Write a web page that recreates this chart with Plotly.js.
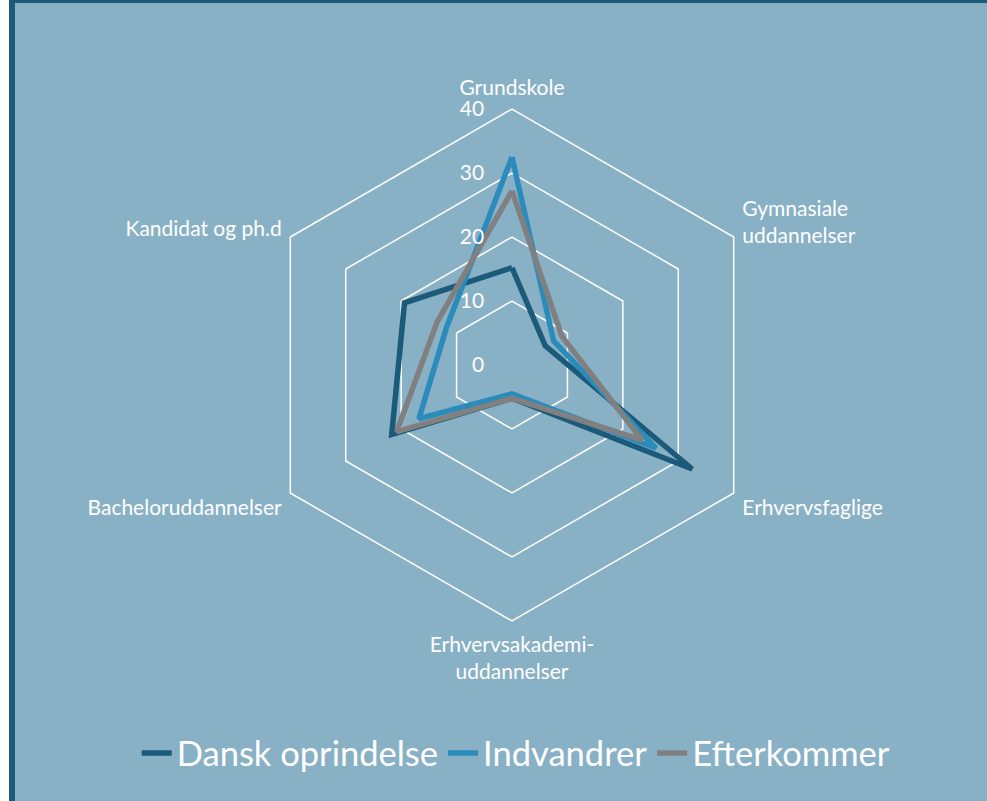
<!DOCTYPE html>
<html>
<head>
<meta charset="utf-8">
<script src="https://cdn.plot.ly/plotly-3.0.1.min.js"></script>
<style>
html,body{margin:0;padding:0;background:#ffffff;}
#chart{width:987px;height:801px;}
</style>
</head>
<body>
<div id="chart"></div>
<script>
// ---- data ----
var categories = ['Grundskole', 'Gymnasiale uddannelser', 'Erhvervsfaglige', 'Erhvervsakademi-uddannelser', 'Bacheloruddannelser', 'Kandidat og ph.d'];
var categoryLabels = ['Grundskole', 'Gymnasiale<br>uddannelser', 'Erhvervsfaglige', 'Erhvervsakademi-<br>uddannelser', 'Bacheloruddannelser', 'Kandidat og ph.d'];
var seriesNames = ['Dansk oprindelse', 'Indvandrer', 'Efterkommer'];
var dansk = [15.2, 6.0, 32.5, 5.2, 21.7, 19.4];
var indvandrer = [32.5, 7.5, 26.0, 4.5, 16.8, 11.8];
var efterkommer = [27.2, 9.0, 23.5, 5.2, 20.8, 13.5];
var radialTicks = [0, 10, 20, 30, 40];

// ---- styles ----
var colors = ['#1b5a79', '#2b8bbb', '#808080'];
var bg = '#89b1c5';
var dark = '#1b5a79';
var W = 987, H = 801;

function closed(a){ return a.concat([a[0]]); }
var allSeries = [dansk, indvandrer, efterkommer];
var traces = allSeries.map(function(vals, i){
  return {
    type: 'scatterpolar',
    r: closed(vals),
    theta: closed(categories),
    mode: 'lines',
    name: seriesNames[i],
    line: {color: colors[i], width: 5.5},
    hoverinfo: 'skip'
  };
});

var cx = 512, cy = 365, R = 256;
var layout = {
  width: W, height: H,
  margin: {l: 0, r: 0, t: 0, b: 0},
  paper_bgcolor: bg,
  plot_bgcolor: bg,
  font: {family: 'Lato, "Open Sans", sans-serif', color: '#ffffff'},
  showlegend: true,
  legend: {
    orientation: 'h',
    x: 0.523, xanchor: 'center',
    y: (H - 753) / H, yanchor: 'middle',
    bgcolor: 'rgba(0,0,0,0)',
    font: {size: 34.5, color: '#ffffff', family: 'Lato, "Open Sans", sans-serif'},
    itemwidth: 30,
    traceorder: 'normal'
  },
  polar: {
    domain: {x: [(cx - R) / W, (cx + R) / W], y: [(H - cy - R) / H, (H - cy + R) / H]},
    bgcolor: bg,
    gridshape: 'linear',
    angularaxis: {
      direction: 'clockwise',
      rotation: 90,
      categoryorder: 'array',
      categoryarray: categories,
      tickvals: categories,
      ticktext: categoryLabels,
      showgrid: false,
      showline: true,
      linecolor: '#ffffff',
      linewidth: 1.5,
      ticks: 'outside',
      ticklen: 5,
      tickcolor: 'rgba(0,0,0,0)',
      tickfont: {size: 21, color: '#ffffff'}
    },
    radialaxis: {
      range: [0, 40],
      tickvals: radialTicks,
      ticktext: radialTicks.map(String),
      angle: 90,
      side: 'counterclockwise',
      showline: false,
      ticks: 'outside',
      ticklen: 20,
      tickcolor: 'rgba(0,0,0,0)',
      showgrid: true,
      gridcolor: '#ffffff',
      gridwidth: 1.5,
      tickfont: {size: 21, color: '#ffffff'},
      tickangle: 90
    }
  },
  shapes: [
    {type: 'rect', xref: 'paper', yref: 'paper', x0: 0, x1: 9 / W, y0: 0, y1: 1, fillcolor: '#ffffff', line: {width: 0}, layer: 'above'},
    {type: 'rect', xref: 'paper', yref: 'paper', x0: 9 / W, x1: 15 / W, y0: 0, y1: 1, fillcolor: dark, line: {width: 0}, layer: 'above'},
    {type: 'rect', xref: 'paper', yref: 'paper', x0: 9 / W, x1: 1, y0: (H - 3) / H, y1: 1, fillcolor: dark, line: {width: 0}, layer: 'above'}
  ]
};

Plotly.newPlot('chart', traces, layout, {displayModeBar: false, staticPlot: true});
</script>
</body>
</html>
